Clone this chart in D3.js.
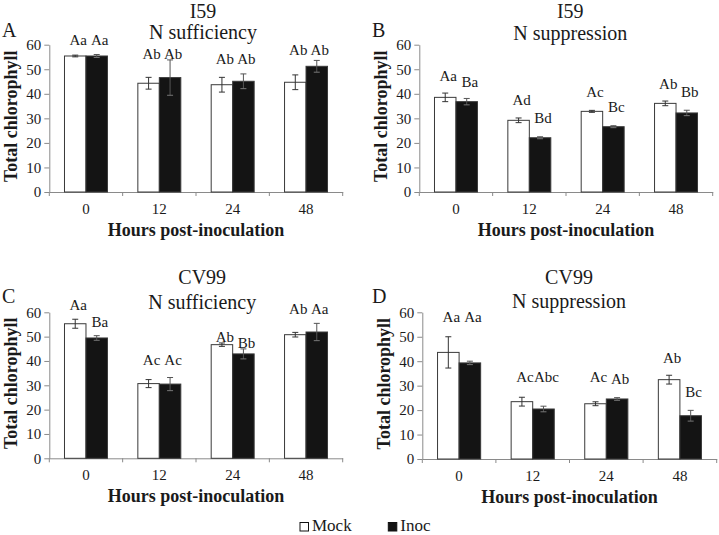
<!DOCTYPE html>
<html>
<head>
<meta charset="utf-8">
<script src="https://cdn.jsdelivr.net/npm/d3@7"></script>
<style>
  html, body { margin: 0; padding: 0; background: #fff; }
  svg { display: block; }
  text { font-family: "Liberation Serif", "Times New Roman", serif; fill: #1a1a1a; }
</style>
</head>
<body>
<svg id="chart" width="719" height="535"></svg>
<script>
// ---------- data ----------
const hours = ["0", "12", "24", "48"];
const yTicks = [0, 10, 20, 30, 40, 50, 60];
const seriesNames = ["Mock", "Inoc"];
const panelLetters = ["A", "B", "C", "D"];
const titleLine1 = ["I59", "I59", "CV99", "CV99"];
const titleLine2 = ["N sufficiency", "N suppression", "N sufficiency", "N suppression"];
const xTitle = "Hours post-inoculation";
const yTitle = "Total chlorophyll";

// Panel A: I59, N sufficiency
const mockA = [55.4, 44.3, 43.7, 44.7];
const mockErrA = [0.35, 2.4, 3.0, 3.0];
const inocA = [55.4, 46.6, 45.1, 51.2];
const inocErrA = [0.6, 7.2, 3.0, 2.4];
const mockLettersA = ["Aa", "Ab", "Ab", "Ab"];
const inocLettersA = ["Aa", "Ab", "Ab", "Ab"];
const mockLetterAtA = [59.9, 54.0, 52.1, 55.8];
const inocLetterAtA = [59.9, 54.0, 52.1, 55.8];

// Panel B: I59, N suppression
const mockB = [38.55, 29.2, 32.85, 36.1];
const mockErrB = [1.75, 0.95, 0.4, 0.95];
const inocB = [36.8, 22.1, 26.6, 32.2];
const inocErrB = [1.3, 0.4, 0.4, 1.1];
const mockLettersB = ["Aa", "Ad", "Ac", "Ab"];
const inocLettersB = ["Ba", "Bd", "Bc", "Bb"];
const mockLetterAtB = [45.3, 35.4, 38.8, 41.8];
const inocLetterAtB = [42.9, 28.2, 32.7, 38.8];

// Panel C: CV99, N sufficiency
const mockC = [55.3, 30.7, 46.7, 50.8];
const mockErrC = [1.85, 1.65, 0.7, 0.95];
const inocC = [49.45, 30.5, 42.9, 51.9];
const inocErrC = [0.95, 2.7, 2.05, 3.55];
const mockLettersC = ["Aa", "Ac", "Ab", "Ab"];
const inocLettersC = ["Ba", "Ac", "Bb", "Aa"];
const mockLetterAtC = [61.0, 38.4, 47.9, 59.3];
const inocLetterAtC = [54.1, 38.4, 45.2, 59.3];

// Panel D: CV99, N suppression
const mockD = [43.6, 23.45, 22.6, 32.45];
const mockErrD = [6.4, 1.8, 0.8, 1.8];
const inocD = [39.3, 20.45, 24.55, 17.7];
const inocErrD = [0.7, 1.15, 0.55, 2.2];
const mockLettersD = ["Aa", "Ac", "Ac", "Ab"];
const inocLettersD = ["Aa", "Abc", "Ab", "Bc"];
const mockLetterAtD = [55.9, 31.4, 31.4, 39.1];
const inocLetterAtD = [55.9, 31.4, 30.5, 25.5];

// ---------- layout (not data) ----------
const layouts = [
  { left: 49.3, right: 342.7, top: 44.7, bottom: 192, tx: 203, t1: 18, t2: 39, lx: 2, ly: 36.7, yt: 17 },
  { left: 419.3, right: 712.7, top: 44.7, bottom: 192, tx: 570.3, t1: 18, t2: 39.5, lx: 372, ly: 36.7, yt: 387 },
  { left: 49.3, right: 342.7, top: 312.3, bottom: 458.3, tx: 202.2, t1: 284.3, t2: 309.3, lx: 2, ly: 303.3, yt: 17 },
  { left: 422.3, right: 716.7, top: 312.3, bottom: 459, tx: 569, t1: 284.3, t2: 308.3, lx: 372, ly: 303.3, yt: 390 }
];

const panelData = [
  { mock: mockA, mockErr: mockErrA, inoc: inocA, inocErr: inocErrA, mL: mockLettersA, iL: inocLettersA, mAt: mockLetterAtA, iAt: inocLetterAtA },
  { mock: mockB, mockErr: mockErrB, inoc: inocB, inocErr: inocErrB, mL: mockLettersB, iL: inocLettersB, mAt: mockLetterAtB, iAt: inocLetterAtB },
  { mock: mockC, mockErr: mockErrC, inoc: inocC, inocErr: inocErrC, mL: mockLettersC, iL: inocLettersC, mAt: mockLetterAtC, iAt: inocLetterAtC },
  { mock: mockD, mockErr: mockErrD, inoc: inocD, inocErr: inocErrD, mL: mockLettersD, iL: inocLettersD, mAt: mockLetterAtD, iAt: inocLetterAtD }
];

const AXIS = "#8a8a8a";
const svg = d3.select("#chart");
const fills = { Mock: "#ffffff", Inoc: "#141414" };

layouts.forEach((L, p) => {
  const d = panelData[p];
  const g = svg.append("g");

  const x0 = d3.scaleBand().domain(hours).range([L.left, L.right]).paddingInner(0).paddingOuter(0);
  const x1 = d3.scaleBand().domain(seriesNames).range([0, x0.bandwidth()]).paddingInner(0).paddingOuter(0.707);
  const y = d3.scaleLinear().domain([0, 60]).range([L.bottom, L.top]);

  // y axis
  const yAx = g.append("g").attr("transform", `translate(${L.left},0)`)
    .call(d3.axisLeft(y).tickValues(yTicks).tickSizeInner(5).tickSizeOuter(0).tickPadding(3));
  yAx.select(".domain").attr("stroke", AXIS);
  yAx.selectAll(".tick line").attr("stroke", AXIS);
  yAx.selectAll("text").style("font-size", "15px").style("font-family", "'Liberation Serif', 'Times New Roman', serif").attr("fill", "#1a1a1a");

  // x axis
  const xAx = g.append("g").attr("transform", `translate(0,${L.bottom})`)
    .call(d3.axisBottom(x0).tickSize(0).tickPadding(11.3));
  xAx.select(".domain").attr("stroke", AXIS);
  xAx.selectAll("text").style("font-size", "15px").style("font-family", "'Liberation Serif', 'Times New Roman', serif").attr("fill", "#1a1a1a");
  // category separators
  const seps = hours.map(h => x0(h)).concat([x0(hours[hours.length - 1]) + x0.step()]);
  g.selectAll("line.sep").data(seps).enter().append("line")
    .attr("x1", v => v).attr("x2", v => v)
    .attr("y1", L.bottom).attr("y2", L.bottom + 4)
    .attr("stroke", AXIS);

  // bars
  const rows = [];
  hours.forEach((h, i) => {
    rows.push({ h, s: "Mock", v: d.mock[i], e: d.mockErr[i], lab: d.mL[i], at: d.mAt[i] });
    rows.push({ h, s: "Inoc", v: d.inoc[i], e: d.inocErr[i], lab: d.iL[i], at: d.iAt[i] });
  });

  g.selectAll("rect.bar").data(rows).enter().append("rect")
    .attr("x", r => x0(r.h) + x1(r.s))
    .attr("y", r => y(r.v))
    .attr("width", x1.bandwidth())
    .attr("height", r => y(0) - y(r.v))
    .attr("fill", r => fills[r.s])
    .attr("stroke", "#3a3a3a")
    .attr("stroke-width", 1);

  // error bars
  const eb = g.selectAll("g.err").data(rows).enter().append("g")
    .attr("transform", r => `translate(${x0(r.h) + x1(r.s) + x1.bandwidth() / 2},0)`);
  eb.append("line").attr("x1", 0).attr("x2", 0)
    .attr("y1", r => y(r.v - r.e)).attr("y2", r => y(r.v + r.e))
    .attr("stroke", r => r.s === "Mock" ? "#333" : "#555").attr("stroke-width", 1);
  eb.append("line").attr("x1", -3).attr("x2", 3)
    .attr("y1", r => y(r.v + r.e)).attr("y2", r => y(r.v + r.e))
    .attr("stroke", r => r.s === "Mock" ? "#333" : "#555").attr("stroke-width", 1);
  eb.append("line").attr("x1", -3).attr("x2", 3)
    .attr("y1", r => y(r.v - r.e)).attr("y2", r => y(r.v - r.e))
    .attr("stroke", r => r.s === "Mock" ? "#333" : "#777").attr("stroke-width", 1);

  // letters
  g.selectAll("text.lab").data(rows).enter().append("text")
    .attr("x", r => x0(r.h) + x1(r.s) + x1.bandwidth() / 2 + 3)
    .attr("y", r => y(r.at))
    .attr("text-anchor", "middle")
    .style("font-size", "15px")
    .text(r => r.lab);

  // titles
  g.append("text").attr("x", L.tx).attr("y", L.t1).attr("text-anchor", "middle")
    .style("font-size", "20px").text(titleLine1[p]);
  g.append("text").attr("x", L.tx).attr("y", L.t2).attr("text-anchor", "middle")
    .style("font-size", "20px").text(titleLine2[p]);
  g.append("text").attr("x", L.lx).attr("y", L.ly)
    .style("font-size", "20px").text(panelLetters[p]);

  // axis titles
  g.append("text").attr("x", (L.left + L.right) / 2).attr("y", L.bottom + 43.7)
    .attr("text-anchor", "middle").style("font-size", "18px").style("font-weight", "bold")
    .text(xTitle);
  g.append("text")
    .attr("transform", `translate(${L.yt},${(L.top + L.bottom) / 2 - 2}) rotate(-90)`)
    .attr("text-anchor", "middle").style("font-size", "18px").style("font-weight", "bold")
    .text(yTitle);
});

// legend
const leg = svg.append("g");
const legX = [300, 388.3];
seriesNames.forEach((s, i) => {
  leg.append("rect").attr("x", legX[i]).attr("y", 522.5).attr("width", 8.5).attr("height", 8.5)
    .attr("fill", fills[s]).attr("stroke", "#111").attr("stroke-width", 1);
  leg.append("text").attr("x", legX[i] + 12).attr("y", 531).style("font-size", "17px").text(s);
});
</script>
</body>
</html>
